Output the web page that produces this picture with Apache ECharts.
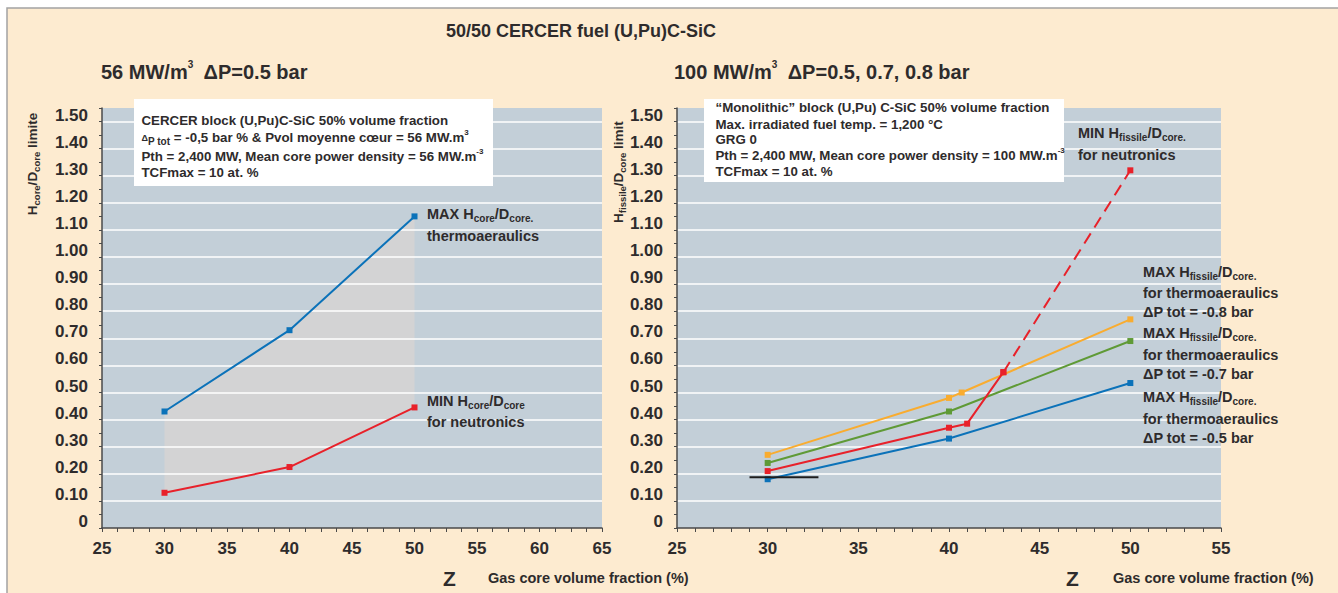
<!DOCTYPE html>
<html><head><meta charset="utf-8">
<script src="https://cdn.jsdelivr.net/npm/echarts@6/dist/echarts.min.js"></script>
<style>html,body{margin:0;padding:0;background:#fff}#c{width:1338px;height:593px}</style>
</head><body><div id="c"></div>
<script>
// ---------- data ----------
const yTickLabelsMin = 0, yTickLabelsMax = 1.5, yLabelStep = 0.1;
const leftXTicks = [25, 30, 35, 40, 45, 50, 55, 60, 65];
const rightXTicks = [25, 30, 35, 40, 45, 50, 55];

// left chart: 56 MW/m3, dP = 0.5 bar
const leftZ = [30, 40, 50];
const leftMaxThermo = [0.43, 0.73, 1.15];
const leftMinNeutron = [0.13, 0.225, 0.445];

// right chart: 100 MW/m3
const rOrangeZ = [30, 40, 40.7, 50];
const rOrange = [0.27, 0.48, 0.50, 0.77];      // dP tot = -0.8 bar
const rGreenZ = [30, 40, 50];
const rGreen = [0.24, 0.43, 0.69];             // dP tot = -0.7 bar
const rBlueZ = [30, 40, 50];
const rBlue = [0.18, 0.33, 0.535];             // dP tot = -0.5 bar
const rRedZ = [30, 40, 41, 43];
const rRed = [0.21, 0.37, 0.385, 0.575];       // MIN for neutronics (solid)
const rRedDashZ = [43, 50];
const rRedDash = [0.575, 1.32];                // MIN for neutronics (dashed)
const rBlackZ = [29, 32.8];
const rBlack = [0.187, 0.187];

// ---------- styles ----------
const FONT = '"Liberation Sans", Arial, Helvetica, sans-serif';
const TXT = '#2e2b2c';
const AX = '#4a4a4a';
const BLUE = '#0b72b9', RED = '#e8212a', ORANGE = '#f9ac2f', GREEN = '#5f9a36';

function pairs(xs, ys) { return xs.map((x, i) => [x, ys[i]]); }

function richSet(size, sub, lh) {
  const base = {fontWeight: 'bold', fontFamily: FONT, fill: TXT};
  return {
    a: Object.assign({fontSize: size, lineHeight: lh}, base),
    s: Object.assign({fontSize: sub, lineHeight: Math.round(sub * 0.8), verticalAlign: 'bottom'}, base),
    u: Object.assign({fontSize: Math.round(sub * 0.8), lineHeight: sub, verticalAlign: 'top'}, base),
    d: Object.assign({fontSize: sub - 1, lineHeight: lh}, base)
  };
}
function txt(x, y, text, size, sub, extra, align) {
  return Object.assign({
    type: 'text', x: x, y: y, z: 100, silent: true,
    style: {text: text, rich: richSet(size, sub, size + 5), fill: TXT,
      font: 'bold ' + size + 'px ' + FONT, align: align || 'left', verticalAlign: 'middle'}
  }, extra || {});
}

function yAxes(gi) {
  return [
    {type: 'value', gridIndex: gi, position: 'left', min: yTickLabelsMin, max: 1.55, interval: yLabelStep, z: 1,
      axisLine: {show: false}, axisTick: {show: false},
      axisLabel: {fontSize: 17, fontWeight: 'bold', fontFamily: FONT, color: TXT, margin: 14,
        verticalAlign: 'bottom', lineHeight: 13,
        formatter: v => v > yTickLabelsMax + 0.02 ? '' : (v === 0 ? '0' : v.toFixed(2))},
      splitLine: {show: true, showMinLine: false, showMaxLine: false, lineStyle: {color: '#ffffff', width: 1.5}}},
    {type: 'value', gridIndex: gi, position: 'left', min: 0, max: 1.55, interval: 0.05, z: 1,
      axisLine: {show: true, lineStyle: {color: AX, width: 1.5}},
      axisTick: {show: true, length: 3, lineStyle: {color: AX, width: 1}},
      axisLabel: {show: false}, splitLine: {show: false}}
  ];
}
function xAxis(gi, ticks, minorSplit) {
  return {type: 'value', gridIndex: gi, min: ticks[0], max: ticks[ticks.length - 1],
    interval: ticks[1] - ticks[0], z: 1,
    axisLine: {onZero: false, lineStyle: {color: AX, width: 1.5}},
    axisTick: {length: 4, lineStyle: {color: AX}},
    minorTick: {show: true, splitNumber: minorSplit, length: 4, lineStyle: {color: AX}},
    axisLabel: {fontSize: 17, fontWeight: 'bold', fontFamily: FONT, color: TXT, margin: 12},
    splitLine: {show: false}};
}
function line(gi, xs, ys, color, extra) {
  return Object.assign({type: 'line', xAxisIndex: gi, yAxisIndex: gi * 2, data: pairs(xs, ys),
    symbol: 'rect', symbolSize: 6, showSymbol: true, z: 3, silent: true,
    lineStyle: {color: color, width: 2}, itemStyle: {color: color}}, extra || {});
}

const chart = echarts.init(document.getElementById('c'), null, {renderer: 'svg'});

const graphics = [
  {type: 'rect', z: -100, silent: true, shape: {x: 7, y: 8, width: 1345, height: 600},
    style: {fill: '#fdebd0', stroke: '#a3a3a3', lineWidth: 1.5}},
  // titles
  txt(446, 31, '50/50 CERCER fuel (U,Pu)C-SiC', 18, 12),
  txt(101, 72, '{a|56 MW/m}{u|3}{a|  ΔP=0.5 bar}', 20, 13),
  txt(674, 72, '{a|100 MW/m}{u|3}{a|  ΔP=0.5, 0.7, 0.8 bar}', 20, 13),
  // axis titles
  txt(32, 164, '{a|H}{s|core}{a|/D}{s|core}{a| limite}', 13.5, 9.5, {rotation: Math.PI / 2}, 'center'),
  txt(618, 172, '{a|H}{s|fissile}{a|/D}{s|core}{a| limit}', 13.5, 9.5, {rotation: Math.PI / 2}, 'center'),
  // x titles
  txt(443, 578, 'Z', 21, 14),
  txt(488, 578, 'Gas core volume fraction (%)', 14.5, 10),
  txt(1066, 578, 'Z', 21, 14),
  txt(1113, 578, 'Gas core volume fraction (%)', 14.5, 10),
  // info boxes
  {type: 'rect', z: 90, silent: true, shape: {x: 134, y: 99, width: 359, height: 87}, style: {fill: '#ffffff'}},
  txt(141.5, 120, 'CERCER block (U,Pu)C-SiC 50% volume fraction', 13.3, 10),
  txt(141.5, 137.5, '{d|Δ}{s|P tot}{a| = -0,5 bar % & Pvol moyenne cœur = 56 MW.m}{u|3}', 13.3, 10),
  txt(141.5, 156.5, '{a|Pth = 2,400 MW, Mean core power density = 56 MW.m}{u|-3}', 13.3, 10),
  txt(141.5, 172.5, 'TCFmax = 10 at. %', 13.3, 10),
  {type: 'rect', z: 90, silent: true, shape: {x: 704, y: 99, width: 360, height: 83}, style: {fill: '#ffffff'}},
  txt(715.5, 107.5, '“Monolithic” block (U,Pu) C-SiC 50% volume fraction', 13.3, 10),
  txt(715.5, 124, 'Max. irradiated fuel temp. = 1,200 °C', 13.3, 10),
  txt(715.5, 139.5, 'GRG 0', 13.3, 10),
  txt(715.5, 155.5, '{a|Pth = 2,400 MW, Mean core power density = 100 MW.m}{u|-3}', 13.3, 10),
  txt(715.5, 171.5, 'TCFmax = 10 at. %', 13.3, 10),
  // left annotations
  txt(427, 214, '{a|MAX H}{s|core}{a|/D}{s|core.}', 14.5, 10),
  txt(427, 236, 'thermoaeraulics', 14.5, 10),
  txt(427, 401, '{a|MIN H}{s|core}{a|/D}{s|core}', 14.5, 10),
  txt(427, 422, 'for neutronics', 14.5, 10),
  // right annotations
  txt(1078, 133, '{a|MIN H}{s|fissile}{a|/D}{s|core.}', 14.5, 10),
  txt(1078, 155, 'for neutronics', 14.5, 10),
  txt(1143, 272, '{a|MAX H}{s|fissile}{a|/D}{s|core.}', 14.5, 10),
  txt(1143, 293, 'for thermoaeraulics', 14.5, 10),
  txt(1143, 312, 'ΔP tot = -0.8 bar', 14.5, 10),
  txt(1143, 333, '{a|MAX H}{s|fissile}{a|/D}{s|core.}', 14.5, 10),
  txt(1143, 355, 'for thermoaeraulics', 14.5, 10),
  txt(1143, 373.5, 'ΔP tot = -0.7 bar', 14.5, 10),
  txt(1143, 397, '{a|MAX H}{s|fissile}{a|/D}{s|core.}', 14.5, 10),
  txt(1143, 419, 'for thermoaeraulics', 14.5, 10),
  txt(1143, 438, 'ΔP tot = -0.5 bar', 14.5, 10)
];

const option = {
  animation: false,
  backgroundColor: '#ffffff',
  grid: [
    {left: 102, top: 108, width: 500, height: 420, show: true, backgroundColor: '#c3cfd8', borderWidth: 0},
    {left: 677, top: 108, width: 544, height: 420, show: true, backgroundColor: '#c3cfd8', borderWidth: 0}
  ],
  xAxis: [xAxis(0, leftXTicks, 4), xAxis(1, rightXTicks, 5)],
  yAxis: yAxes(0).concat(yAxes(1)),
  graphic: graphics,
  series: [
    {type: 'custom', xAxisIndex: 0, yAxisIndex: 0, z: 0.5, silent: true,
      data: pairs(leftZ, leftMaxThermo),
      renderItem: function (params, api) {
        if (params.dataIndex !== 0) return null;
        const pts = [];
        for (let i = 0; i < leftZ.length; i++) pts.push(api.coord([leftZ[i], leftMaxThermo[i]]));
        for (let i = leftZ.length - 1; i >= 0; i--) pts.push(api.coord([leftZ[i], leftMinNeutron[i]]));
        return {type: 'polygon', shape: {points: pts}, style: {fill: '#d3d3d4'}};
      }},
    line(0, leftZ, leftMaxThermo, BLUE),
    line(0, leftZ, leftMinNeutron, RED),
    line(1, rOrangeZ, rOrange, ORANGE),
    line(1, rGreenZ, rGreen, GREEN),
    line(1, rBlueZ, rBlue, BLUE),
    line(1, rRedDashZ, rRedDash, RED, {lineStyle: {color: RED, width: 2, type: [12, 7]}}),
    line(1, rRedZ, rRed, RED),
    line(1, rBlackZ, rBlack, '#1e1e1e', {symbol: 'none', z: 4})
  ]
};
chart.setOption(option);
</script>
</body></html>
